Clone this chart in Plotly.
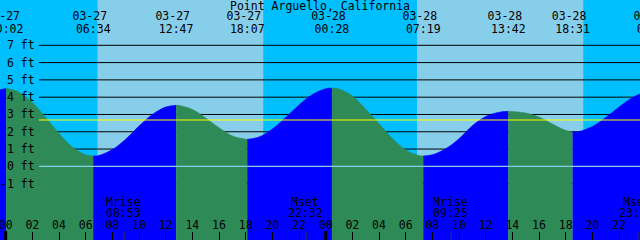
import plotly.graph_objects as go
import pandas as pd

# ---------------- data ----------------
station = "Point Arguello, California"

# tide level (ft)
times = [
    "2024-03-26 23:00", "2024-03-27 00:02", "2024-03-27 01:00", "2024-03-27 02:00",
    "2024-03-27 03:00", "2024-03-27 04:00", "2024-03-27 05:00", "2024-03-27 06:00",
    "2024-03-27 06:34", "2024-03-27 07:00", "2024-03-27 08:00", "2024-03-27 09:00",
    "2024-03-27 10:00", "2024-03-27 11:00", "2024-03-27 12:00", "2024-03-27 12:47",
    "2024-03-27 13:00", "2024-03-27 14:00", "2024-03-27 15:00", "2024-03-27 16:00",
    "2024-03-27 17:00", "2024-03-27 18:00", "2024-03-27 18:07", "2024-03-27 19:00",
    "2024-03-27 20:00", "2024-03-27 21:00", "2024-03-27 22:00", "2024-03-27 23:00",
    "2024-03-28 00:00", "2024-03-28 00:28", "2024-03-28 01:00", "2024-03-28 02:00",
    "2024-03-28 03:00", "2024-03-28 04:00", "2024-03-28 05:00", "2024-03-28 06:00",
    "2024-03-28 07:00", "2024-03-28 07:19", "2024-03-28 08:00", "2024-03-28 09:00",
    "2024-03-28 10:00", "2024-03-28 11:00", "2024-03-28 12:00", "2024-03-28 13:00",
    "2024-03-28 13:42", "2024-03-28 14:00", "2024-03-28 15:00", "2024-03-28 16:00",
    "2024-03-28 17:00", "2024-03-28 18:00", "2024-03-28 18:31", "2024-03-28 19:00",
    "2024-03-28 20:00", "2024-03-28 21:00", "2024-03-28 22:00", "2024-03-28 23:00",
    "2024-03-29 00:00", "2024-03-29 00:38",
]
levels = [
    4.33, 4.50, 4.29, 3.69,
    2.82, 1.90, 1.12, 0.67,
    0.60, 0.63, 0.97, 1.57,
    2.33, 3.00, 3.43, 3.53,
    3.52, 3.29, 2.80, 2.23,
    1.76, 1.57, 1.56, 1.70,
    2.16, 2.83, 3.55, 4.15,
    4.49, 4.53, 4.47, 4.07,
    3.30, 2.47, 1.61, 0.95,
    0.62, 0.60, 0.67, 1.02,
    1.60, 2.35, 2.88, 3.13,
    3.18, 3.17, 3.08, 2.85,
    2.45, 2.08, 1.98, 2.01,
    2.30, 2.82, 3.43, 3.97,
    4.30, 4.37,
]

# high / low tide events (labelled at the top)
extreme_times = [
    "2024-03-27 00:02", "2024-03-27 06:34", "2024-03-27 12:47", "2024-03-27 18:07",
    "2024-03-28 00:28", "2024-03-28 07:19", "2024-03-28 13:42", "2024-03-28 18:31",
    "2024-03-29 00:38",
]

sunrise = ["2024-03-27 06:53", "2024-03-28 06:51"]
sunset = ["2024-03-27 19:19", "2024-03-28 19:19"]

moon_times = ["2024-03-27 08:53", "2024-03-27 22:32", "2024-03-28 09:25", "2024-03-28 23:25"]
moon_names = ["Mrise", "Mset", "Mrise", "Mset"]

midnights = ["2024-03-27 00:00", "2024-03-28 00:00"]

depth_levels = [-1, 0, 1, 2, 3, 4, 5, 6, 7]
datum_level = 0
mean_level = 2.68

x_range = ["2024-03-26 23:34:20", "2024-03-28 23:34:20"]
y_range = [-4.26, 9.62]

# ---------------- style ----------------
W, H = 640, 240
NIGHT = "#00BFFF"
DAY = "#87CEEB"
RISING = "#0000FF"
FALLING = "#2E8B57"
FONT = dict(family="DejaVu Sans Mono", size=11.5, color="black")

x0_t, x1_t = pd.Timestamp(x_range[0]), pd.Timestamp(x_range[1])


def py(px):
    """pixel row -> paper fraction"""
    return 1 - px / H


def ydata(px):
    """pixel row -> data value on the y axis"""
    return y_range[1] - px * (y_range[1] - y_range[0]) / H


def xdata(px):
    """pixel column -> time on the x axis"""
    return x0_t + (x1_t - x0_t) * (px / W)


fig = go.Figure()

# tide fill, one trace per rising / falling stretch
t = pd.to_datetime(times)
bounds = sorted(set([0] + [times.index(e) for e in extreme_times] + [len(times) - 1]))
floor = y_range[0] - 1
for a, b in zip(bounds[:-1], bounds[1:]):
    xs = t[a:b + 1]
    ys = levels[a:b + 1]
    color = RISING if ys[-1] > ys[0] else FALLING
    fig.add_trace(go.Scatter(x=xs, y=[floor] * len(xs), mode="lines",
                             line=dict(width=0, color=color), hoverinfo="skip",
                             showlegend=False))
    fig.add_trace(go.Scatter(x=xs, y=ys, mode="lines",
                             line=dict(width=0.6, color=color, shape="spline"),
                             fill="tonexty", fillcolor=color, hoverinfo="skip",
                             showlegend=False))

# high / low labels at the top (text traces so partly-visible edge labels are clipped)
ext = pd.to_datetime(extreme_times)
fig.add_trace(go.Scatter(x=ext, y=[ydata(16.7)] * len(ext), mode="text",
                         text=[e.strftime("%m-%d") + "\u00a0" for e in ext],
                         textposition="middle center", textfont=FONT,
                         hoverinfo="skip", showlegend=False, cliponaxis=True))
fig.add_trace(go.Scatter(x=ext, y=[ydata(30)] * len(ext), mode="text",
                         text=[e.strftime("%H:%M") for e in ext],
                         textposition="middle center", textfont=FONT,
                         hoverinfo="skip", showlegend=False, cliponaxis=True))

shapes = []
# daylight bands
for r, s in zip(sunrise, sunset):
    shapes.append(dict(type="rect", xref="x", yref="y", x0=r, x1=s,
                       y0=y_range[0] - 1, y1=y_range[1] + 1,
                       fillcolor=DAY, line=dict(width=0), layer="below"))
# depth lines (behind the tide)
for lv in depth_levels:
    shapes.append(dict(type="line", xref="x", yref="y", x0=xdata(39), x1=x1_t, y0=lv, y1=lv,
                       line=dict(color="black", width=1), layer="below"))
# datum and mean lines (in front)
shapes.append(dict(type="line", xref="paper", yref="y", x0=39 / W, x1=1,
                   y0=datum_level, y1=datum_level, line=dict(color=DAY, width=1.2), layer="above"))
shapes.append(dict(type="line", xref="paper", yref="y", x0=39 / W, x1=1,
                   y0=mean_level, y1=mean_level, line=dict(color="#FFFF00", width=1.2), layer="above"))
# midnight ticks
for m in midnights:
    shapes.append(dict(type="line", xref="x", yref="paper", x0=m, x1=m, y0=0, y1=9 / H,
                       line=dict(color="black", width=3), layer="above"))
# moon ticks
for m in moon_times:
    shapes.append(dict(type="line", xref="x", yref="paper", x0=m, x1=m, y0=0, y1=8.5 / H,
                       line=dict(color="#303030", width=1), layer="above"))

ann = []
ann.append(dict(text=station, xref="paper", yref="paper", x=0.5, y=py(6),
                xanchor="center", yanchor="middle", showarrow=False, font=FONT))
for lv in depth_levels:
    ann.append(dict(text=f"{lv} ft", xref="paper", yref="y", x=36.5 / W, y=lv,
                    xanchor="right", yanchor="middle", showarrow=False, font=FONT))
for m, name in zip(moon_times, moon_names):
    ts = pd.Timestamp(m)
    ann.append(dict(text=name, xref="x", yref="paper", x=m, y=py(201.5),
                    xanchor="center", yanchor="middle", xshift=-1, showarrow=False, font=FONT))
    ann.append(dict(text=ts.strftime("%H:%M"), xref="x", yref="paper", x=m, y=py(213.3),
                    xanchor="center", yanchor="middle", xshift=-1, showarrow=False, font=FONT))

fig.update_layout(
    width=W, height=H, margin=dict(l=0, r=0, t=0, b=0),
    paper_bgcolor=NIGHT, plot_bgcolor=NIGHT,
    shapes=shapes, annotations=ann, showlegend=False,
    xaxis=dict(type="date", range=x_range, tick0="2024-03-27 00:00", dtick=2 * 3600 * 1000,
               tickformat="%H", ticks="inside", ticklen=8, tickwidth=1, tickcolor="black",
               ticklabelposition="inside", ticklabeloverflow="allow",
               showgrid=False, zeroline=False, showline=False, tickfont=FONT, fixedrange=True),
    yaxis=dict(range=y_range, visible=False, showgrid=False, zeroline=False, fixedrange=True),
)

fig.write_html("out.html", config={"displayModeBar": False})
